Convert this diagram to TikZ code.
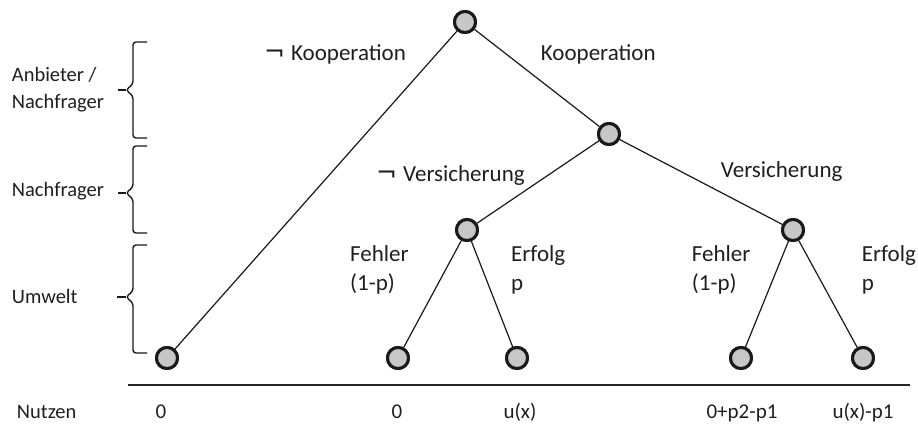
\documentclass[tikz,border=0pt]{standalone}
\usepackage{fontspec}
\setmainfont{Carlito}
\newfontfamily\negfont{DejaVu Sans}
\newcommand{\negsign}{{\negfont\fontsize{25}{28}\selectfont ¬}}
\begin{document}
\begin{tikzpicture}[x=1pt,y=-1pt,
  knot/.style={circle,draw=black!90,fill=black!22,line width=3pt,minimum size=21pt,inner sep=0pt},
  edge/.style={line width=1.2pt,black!90},
  big/.style={font=\fontsize{23}{28}\selectfont,inner sep=0pt,anchor=base west,text=black!88},
  side/.style={font=\fontsize{20.5}{26}\selectfont,inner sep=0pt,anchor=base west,text=black!88},
  pay/.style={font=\fontsize{21}{26}\selectfont,inner sep=0pt,anchor=base,text=black!88},
  bracepath/.style={line width=1.4pt,black!90,rounded corners=3pt}]
\useasboundingbox (0,0) rectangle (918,434);
% nodes
\node[knot] (r) at (465,22) {};
\node[knot] (k) at (609,134) {};
\node[knot] (nv) at (467,230) {};
\node[knot] (v) at (793,230) {};
\node[knot] (l1) at (167,358) {};
\node[knot] (l2) at (398,358) {};
\node[knot] (l3) at (517,358) {};
\node[knot] (l4) at (741,358) {};
\node[knot] (l5) at (863,358) {};
% edges
\draw[edge] (r) -- (l1);
\draw[edge] (r) -- (k);
\draw[edge] (k) -- (nv);
\draw[edge] (k) -- (v);
\draw[edge] (nv) -- (l2);
\draw[edge] (nv) -- (l3);
\draw[edge] (v) -- (l4);
\draw[edge] (v) -- (l5);
% redraw circles on top
\foreach \n in {r,k,nv,v,l1,l2,l3,l4,l5}{\node[knot] at (\n) {};}
% edge labels
\node[big] (t1) at (264,60.7) {\negsign\kern6pt Kooperation};
\node[big] (t2) at (540.7,60.7) {Kooperation};
\node[big] (t3) at (376,181) {\negsign\kern6pt Versicherung};
\node[big] (t4) at (720.7,177.3) {Versicherung};
\node[big] (f1) at (350,261.7) {Fehler};
\node[big] (f1b) at (350,290) {(1-p)};
\node[big] (e1) at (511,261.7) {Erfolg};
\node[big] (e1b) at (511,290) {p};
\node[big] (f2) at (691.7,261.7) {Fehler};
\node[big] (f2b) at (691.7,290) {(1-p)};
\node[big] (e2) at (861.7,261.7) {Erfolg};
\node[big] (e2b) at (861.7,290) {p};
% side labels
\node[side] (s1) at (11.7,81.7) {Anbieter /};
\node[side] (s1b) at (11.7,108) {Nachfrager};
\node[side] (s2) at (11.7,196.7) {Nachfrager};
\node[side] (s3) at (11.7,303) {Umwelt};
% braces
\draw[bracepath] (147,42) -- (133,42) -- (133,84) -- (126,90) -- (133,96) -- (133,138) -- (147,138);
\draw[bracepath] (126,90) -- (118,90);
\draw[bracepath] (147,146) -- (133,146) -- (133,187) -- (126,193) -- (133,199) -- (133,233) -- (147,233);
\draw[bracepath] (126,193) -- (118,193);
\draw[bracepath] (147,245) -- (133,245) -- (133,291) -- (126,297) -- (133,303) -- (133,353) -- (147,353);
\draw[bracepath] (126,297) -- (117,297);
% payoff line
\coordinate (ls) at (128,385);
\coordinate (le) at (910,385);
\draw[line width=2pt,black!85] (ls) -- (le);
\node[side] (nu) at (16.7,418) {Nutzen};
\node[pay] (p1) at (161,418) {0};
\node[pay] (p2) at (397,418) {0};
\node[pay] (p3) at (520,418) {u(x)};
\node[pay] (p4) at (742,418) {0+p2-p1};
\node[pay] (p5) at (863,418) {u(x)-p1};
\end{tikzpicture}
\end{document}
